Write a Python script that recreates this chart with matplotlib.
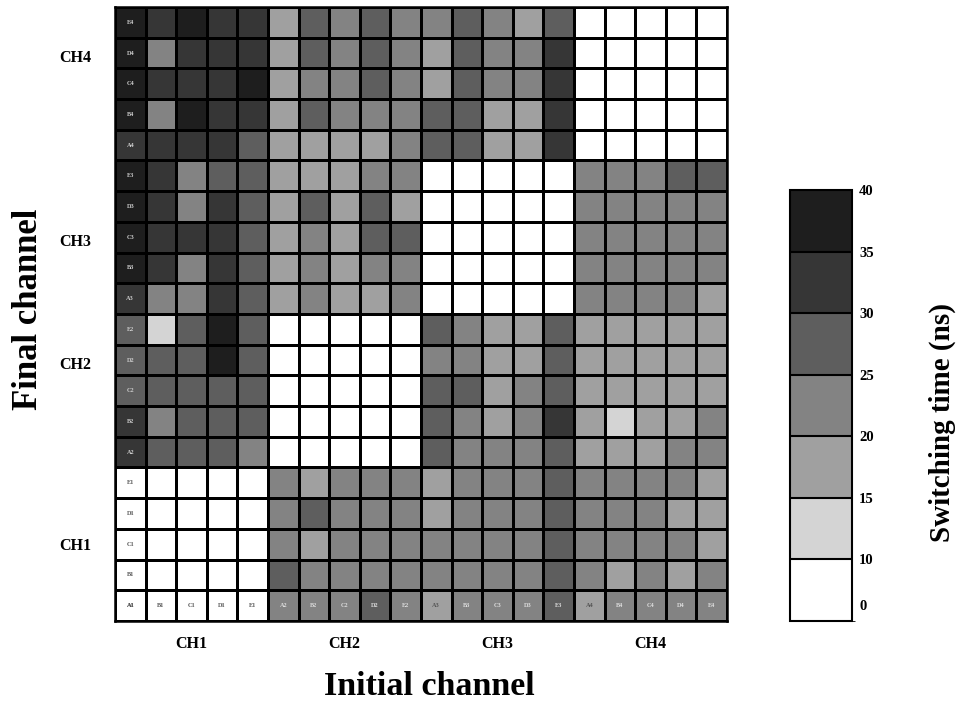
import numpy as np
import matplotlib
matplotlib.use("Agg")
import matplotlib.pyplot as plt
from matplotlib.colors import ListedColormap, BoundaryNorm

# Data: switching time (ns), rows = final channel (top E4 ... bottom A1),
# columns = initial channel (A1 ... E4)
channels = ["CH1", "CH2", "CH3", "CH4"]
ports = ["A", "B", "C", "D", "E"]
col_names = [p + c[-1] for c in channels for p in ports]
row_names = col_names[::-1]

switch_time = np.array([
    [37, 33, 37, 33, 33, 18, 26, 24, 26, 24, 20, 27, 22, 17, 28, 0, 0, 0, 0, 0],
    [37, 22, 33, 33, 33, 18, 26, 24, 25, 24, 19, 27, 22, 22, 33, 0, 0, 0, 0, 0],
    [37, 33, 33, 33, 35, 18, 24, 24, 26, 24, 19, 26, 22, 21, 34, 0, 0, 0, 0, 0],
    [37, 22, 37, 33, 33, 19, 26, 24, 24, 23, 27, 27, 18, 18, 34, 0, 0, 0, 0, 0],
    [33, 33, 33, 33, 26, 19, 18, 19, 18, 24, 27, 26, 18, 18, 33, 0, 0, 0, 0, 0],
    [37, 33, 22, 26, 27, 19, 19, 19, 21, 22, 0, 0, 0, 0, 0, 23, 23, 22, 28, 27],
    [37, 33, 22, 33, 26, 19, 26, 19, 27, 19, 0, 0, 0, 0, 0, 24, 24, 22, 22, 22],
    [37, 33, 33, 33, 26, 19, 22, 19, 26, 27, 0, 0, 0, 0, 0, 23, 23, 22, 23, 22],
    [37, 33, 22, 33, 26, 18, 22, 19, 22, 24, 0, 0, 0, 0, 0, 23, 23, 22, 22, 22],
    [33, 24, 24, 33, 26, 19, 22, 18, 19, 22, 0, 0, 0, 0, 0, 23, 23, 22, 22, 18],
    [26, 12, 26, 35, 26, 0, 0, 0, 0, 0, 28, 22, 18, 19, 28, 19, 19, 19, 18, 18],
    [27, 26, 26, 35, 26, 0, 0, 0, 0, 0, 24, 22, 19, 19, 27, 19, 19, 19, 19, 19],
    [27, 27, 27, 26, 27, 0, 0, 0, 0, 0, 28, 27, 18, 22, 28, 19, 19, 19, 19, 19],
    [33, 22, 27, 27, 27, 0, 0, 0, 0, 0, 27, 24, 19, 22, 34, 19, 12, 19, 19, 24],
    [33, 26, 27, 27, 21, 0, 0, 0, 0, 0, 28, 24, 22, 22, 26, 19, 19, 19, 24, 22],
    [0, 0, 0, 0, 0, 22, 19, 24, 24, 24, 19, 22, 22, 22, 27, 22, 24, 22, 24, 19],
    [0, 0, 0, 0, 0, 22, 26, 24, 24, 24, 19, 22, 22, 22, 27, 22, 24, 22, 19, 19],
    [0, 0, 0, 0, 0, 22, 19, 24, 24, 22, 24, 22, 22, 24, 27, 22, 24, 22, 24, 19],
    [0, 0, 0, 0, 0, 28, 24, 24, 22, 22, 22, 22, 24, 22, 27, 22, 19, 22, 19, 22],
    [0, 0, 0, 0, 0, 22, 24, 22, 27, 22, 19, 22, 22, 22, 27, 19, 22, 22, 22, 22],
])

levels = [0, 10, 15, 20, 25, 30, 35, 40]
grays = ["#ffffff", "#d4d4d4", "#a0a0a0", "#838383", "#5e5e5e", "#363636", "#1e1e1e"]

cmap = ListedColormap(grays)
norm = BoundaryNorm(levels, cmap.N)

plt.rcParams["font.family"] = ["Liberation Serif", "DejaVu Serif"]
plt.rcParams["font.weight"] = "bold"

fig = plt.figure(figsize=(9.63, 7.04), dpi=100)
ax = fig.add_axes([0.1194, 0.1179, 0.6355, 0.8722])
cax = fig.add_axes([0.8204, 0.1179, 0.0644, 0.6122])

n = len(col_names)
mesh = ax.pcolormesh(np.arange(n + 1), np.arange(n + 1), switch_time,
                     cmap=cmap, norm=norm, edgecolors="black", linewidth=1.8)
ax.set_xlim(0, n)
ax.set_ylim(n, 0)
for s in ax.spines.values():
    s.set_linewidth(1.8)

# tiny port labels inside first column and bottom row
for i, name in enumerate(row_names):
    v = switch_time[i, 0]
    ax.text(0.5, i + 0.5, name, ha="center", va="center", fontsize=4.5,
            color="#cccccc" if v >= 20 else "#555555")
for j, name in enumerate(col_names):
    v = switch_time[n - 1, j]
    ax.text(j + 0.5, n - 0.5, name, ha="center", va="center", fontsize=4.5,
            color="#dddddd" if v >= 20 else "#555555")

ax.set_xticks([2.5, 7.5, 12.5, 17.5])
ax.set_xticklabels(channels, fontsize=11.5, fontweight="bold")
ax.set_yticks([1.6, 7.6, 11.6, 17.5])
ax.set_yticklabels(channels[::-1], fontsize=11.5, fontweight="bold")
ax.tick_params(length=0, pad=11)
ax.tick_params(axis="y", pad=17)

fig.text(0.03, 0.56, "Final channel", rotation=90, ha="center", va="center",
         fontsize=25, fontweight="bold")
fig.text(0.446, 0.025, "Initial channel", ha="center", va="center",
         fontsize=24.5, fontweight="bold")

cb = fig.colorbar(mesh, cax=cax, spacing="uniform", drawedges=True)
cb.set_ticks([2.6, 10, 15, 20, 25, 30, 35, 40])
cb.set_ticklabels(["0", "10", "15", "20", "25", "30", "35", "40"])
cb.ax.tick_params(length=0, labelsize=10.5, pad=5)
for t in cb.ax.get_yticklabels():
    t.set_fontweight("bold")
cb.outline.set_linewidth(1.5)
cb.dividers.set_linewidth(1.5)
fig.text(0.979, 0.40, "Switching time (ns)", rotation=90, ha="center", va="center",
         fontsize=21, fontweight="bold")

fig.savefig("out.png", dpi=100)
